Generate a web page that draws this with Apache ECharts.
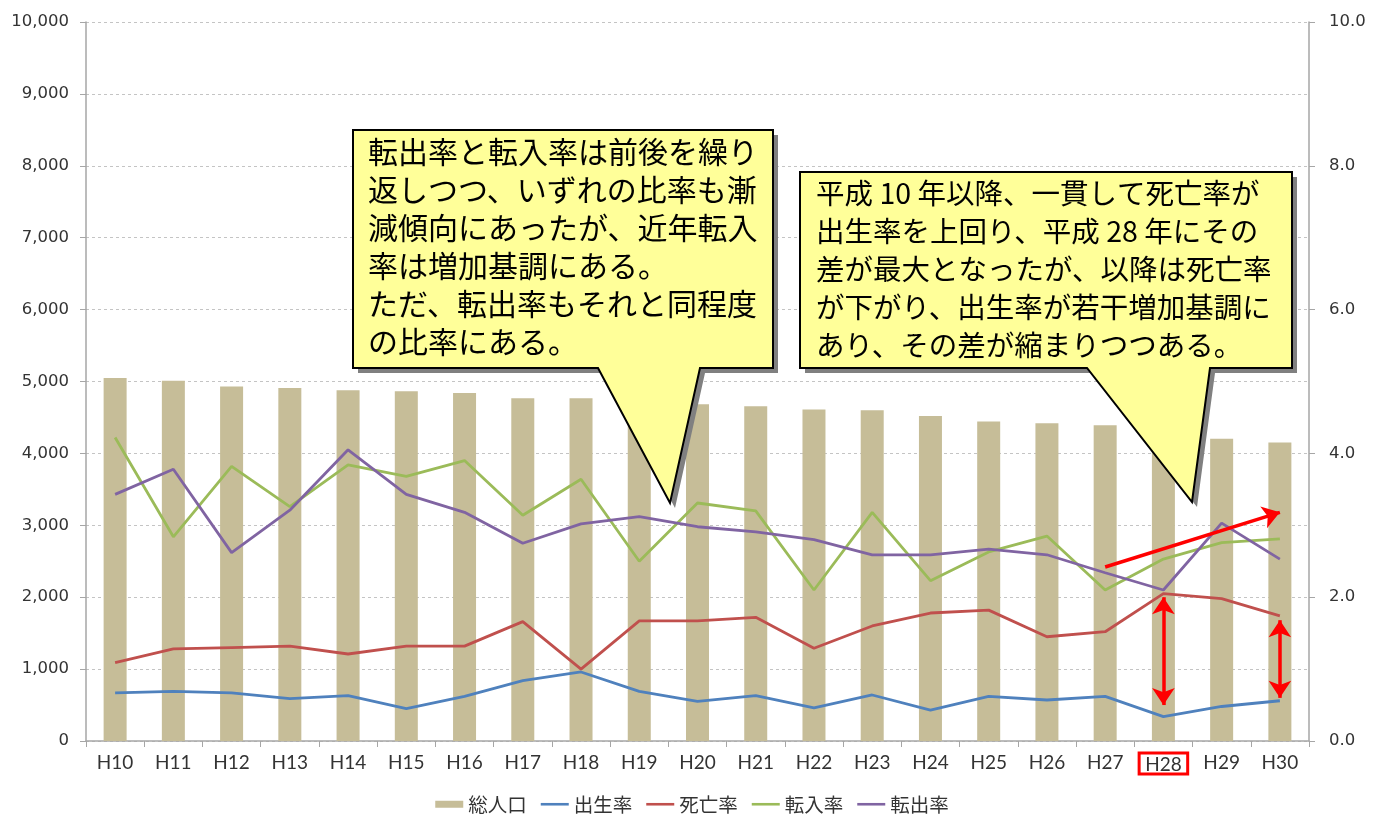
<!DOCTYPE html>
<html>
<head>
<meta charset="utf-8">
<script src="https://cdn.jsdelivr.net/npm/echarts@6/dist/echarts.min.js"></script>
<style>
html,body{margin:0;padding:0;background:#fff;}
#chart{width:1384px;height:821px;}
</style>
</head>
<body>
<div id="chart"></div>
<script>
// ---- data ----
const categories = ['H10','H11','H12','H13','H14','H15','H16','H17','H18','H19','H20','H21','H22','H23','H24','H25','H26','H27','H28','H29','H30'];
const population = [5050,5010,4930,4910,4880,4865,4840,4768,4768,4720,4685,4655,4610,4600,4520,4445,4420,4390,4300,4205,4150];
const birthRate  = [0.67,0.69,0.67,0.59,0.63,0.45,0.62,0.84,0.96,0.69,0.55,0.63,0.46,0.64,0.43,0.62,0.57,0.62,0.34,0.48,0.56];
const deathRate  = [1.09,1.28,1.30,1.32,1.21,1.32,1.32,1.66,1.00,1.67,1.67,1.72,1.29,1.60,1.78,1.82,1.45,1.52,2.05,1.98,1.74];
const inRate     = [4.22,2.84,3.82,3.26,3.84,3.68,3.90,3.14,3.64,2.50,3.31,3.20,2.10,3.18,2.23,2.63,2.85,2.10,2.53,2.76,2.81];
const outRate    = [3.43,3.78,2.62,3.21,4.05,3.43,3.18,2.75,3.02,3.12,2.98,2.91,2.80,2.59,2.59,2.67,2.59,2.34,2.10,3.03,2.53];
const seriesNames = ['総人口','出生率','死亡率','転入率','転出率'];
const highlightCategory = 'H28';
// annotation arrows (data space)
const gapArrows = [['H28', 2.00, 0.50], ['H30', 1.68, 0.60]];
const trendArrow = [['H27', 2.42], ['H30', 3.18]];
const note1 = '転出率と転入率は前後を繰り\n返しつつ、いずれの比率も漸\n減傾向にあったが、近年転入\n率は増加基調にある。\nただ、転出率もそれと同程度\nの比率にある。';
const note2 = '平成 10 年以降、一貫して死亡率が\n出生率を上回り、平成 28 年にその\n差が最大となったが、以降は死亡率\nが下がり、出生率が若干増加基調に\nあり、その差が縮まりつつある。';

const colors = {bar:'#C6BD98', birth:'#4F81BD', death:'#C0504D', inR:'#9BBB59', outR:'#8064A2'};
const axisGray = '#A6A6A6';
const jp = '"Noto Sans CJK JP", sans-serif';
const lineIcon = 'path://M0,0M0,7M0,2.2H28V4.8H0Z';

function callout(pts, dx, dy) {
  return pts.map(p => [p[0] + dx, p[1] + dy]);
}
const c1 = [[353,130],[773,130],[773,368],[700,368],[670,503],[598,368],[353,368]];
const c2 = [[800,172],[1292,172],[1292,368],[1210,368],[1192,502],[1087,368],[800,368]];

const chart = echarts.init(document.getElementById('chart'));
const markLineData = gapArrows.map(a => [
  {coord:[a[0], a[1]], symbol:'arrow'},
  {coord:[a[0], a[2]], symbol:'arrow'}
]).concat([[
  {coord:trendArrow[0], symbol:'none'},
  {coord:trendArrow[1], symbol:'arrow'}
]]);

chart.setOption({
  animation:false,
  grid:{left:86, right:75, top:22, bottom:80, containLabel:false},
  legend:{
    bottom:2, left:'center',
    itemWidth:28, itemHeight:7, itemGap:14,
    textStyle:{fontFamily:jp, fontSize:19.5, color:'#333'},
    data:[
      {name:seriesNames[0], icon:'rect'},
      {name:seriesNames[1], icon:lineIcon},
      {name:seriesNames[2], icon:lineIcon},
      {name:seriesNames[3], icon:lineIcon},
      {name:seriesNames[4], icon:lineIcon}
    ]
  },
  xAxis:{
    type:'category', data:categories, boundaryGap:true,
    axisLine:{lineStyle:{color:axisGray, width:1.5}},
    axisTick:{show:true, interval:0, alignWithLabel:false, length:6, lineStyle:{color:axisGray}},
    axisLabel:{
      interval:0, margin:12, color:'#333', fontFamily:'Lato, "Open Sans", sans-serif', fontSize:19,
      formatter:function(v){ return v === highlightCategory ? '{hl|' + v + '}' : v; },
      rich:{hl:{borderColor:'#FF0000', borderWidth:3, padding:[2,6,0,6], color:'#333', fontFamily:'Lato, "Open Sans", sans-serif', fontSize:19}}
    }
  },
  yAxis:[
    {
      type:'value', min:0, max:10000, interval:1000,
      axisLine:{show:true, lineStyle:{color:axisGray, width:1.5}},
      axisTick:{show:true, length:6, lineStyle:{color:axisGray}},
      axisLabel:{margin:17, color:'#333', fontFamily:'"DejaVu Sans", sans-serif', fontSize:16.5,
        formatter:function(v){ return v.toLocaleString('en-US'); }},
      splitLine:{show:true, lineStyle:{color:'#C4C4C4', type:[3,3], width:1}}
    },
    {
      type:'value', min:0, max:10, interval:2, position:'right',
      axisLine:{show:true, lineStyle:{color:axisGray, width:1.5}},
      axisTick:{show:true, length:6, lineStyle:{color:axisGray}},
      axisLabel:{margin:20, color:'#333', fontFamily:'"DejaVu Sans", sans-serif', fontSize:16.5,
        formatter:function(v){ return v.toFixed(1); }},
      splitLine:{show:false}
    }
  ],
  series:[
    {name:seriesNames[0], type:'bar', data:population, yAxisIndex:0, barWidth:23,
     itemStyle:{color:colors.bar}, z:1},
    {name:seriesNames[1], type:'line', data:birthRate, yAxisIndex:1, symbol:'none',
     lineStyle:{color:colors.birth, width:2.8}, itemStyle:{color:colors.birth}, z:3},
    {name:seriesNames[2], type:'line', data:deathRate, yAxisIndex:1, symbol:'none',
     lineStyle:{color:colors.death, width:2.8}, itemStyle:{color:colors.death}, z:3,
     markLine:{silent:true, symbolSize:17, label:{show:false},
       lineStyle:{color:'#FF0000', width:3.5, type:'solid'},
       emphasis:{disabled:true},
       data:markLineData}},
    {name:seriesNames[3], type:'line', data:inRate, yAxisIndex:1, symbol:'none',
     lineStyle:{color:colors.inR, width:2.8}, itemStyle:{color:colors.inR}, z:3},
    {name:seriesNames[4], type:'line', data:outRate, yAxisIndex:1, symbol:'none',
     lineStyle:{color:colors.outR, width:2.8}, itemStyle:{color:colors.outR}, z:3}
  ],
  graphic:[
    {type:'polygon', z:100, shape:{points:callout(c1,5,5)}, style:{fill:'#808080'}},
    {type:'polygon', z:101, shape:{points:c1}, style:{fill:'#FFFF99', stroke:'#000', lineWidth:2}},
    {type:'text', z:102, x:368, y:133, style:{text:note1, font:'30px ' + jp, fill:'#000', lineHeight:38}},
    {type:'polygon', z:100, shape:{points:callout(c2,5,5)}, style:{fill:'#808080'}},
    {type:'polygon', z:101, shape:{points:c2}, style:{fill:'#FFFF99', stroke:'#000', lineWidth:2}},
    {type:'text', z:102, x:816, y:174, style:{text:note2, font:'28.5px ' + jp, fill:'#000', lineHeight:38}}
  ]
});
</script>
</body>
</html>
